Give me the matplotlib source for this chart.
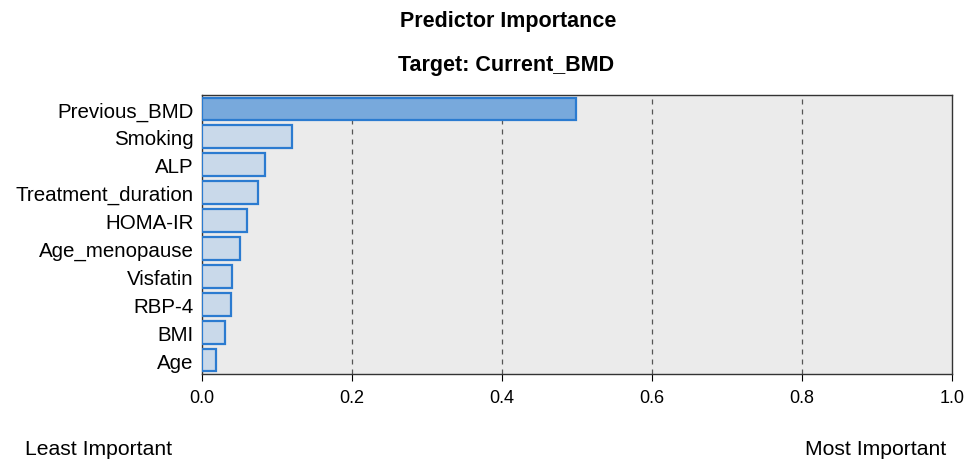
import matplotlib
matplotlib.use("Agg")
import matplotlib.pyplot as plt

plt.rcParams['font.family'] = ['Liberation Sans', 'DejaVu Sans']

predictors = ['Previous_BMD', 'Smoking', 'ALP', 'Treatment_duration', 'HOMA-IR',
              'Age_menopause', 'Visfatin', 'RBP-4', 'BMI', 'Age']
importance = [0.498, 0.120, 0.084, 0.075, 0.060, 0.051, 0.040, 0.039, 0.030, 0.019]
x_ticks = [0.0, 0.2, 0.4, 0.6, 0.8, 1.0]

fig = plt.figure(figsize=(9.76, 4.6), dpi=100)
ax = fig.add_axes([202 / 976, 1 - 375 / 460, 750 / 976, 279 / 460])

ypos = list(range(len(predictors)))[::-1]
colors = ['#78a9dc'] + ['#c9d9ea'] * (len(predictors) - 1)
ax.barh(ypos, importance, height=0.82, color=colors, edgecolor='#2b7bd0', linewidth=1.6, zorder=3)

ax.set_facecolor('#ebebeb')
ax.set_xlim(0, 1.0)
ax.set_ylim(-0.5, len(predictors) - 0.5)
ax.set_yticks(ypos)
ax.set_yticklabels(predictors, fontsize=14.8)
ax.set_xticks(x_ticks)
ax.set_xticklabels(['%.1f' % v for v in x_ticks], fontsize=13)
ax.tick_params(axis='y', length=0, pad=6)
ax.tick_params(axis='x', length=5, direction='out', pad=6)
for v in x_ticks[1:-1]:
    ax.axvline(v, color='#555555', linestyle=(0, (4, 4)), linewidth=0.9, zorder=1)
for s in ax.spines.values():
    s.set_color('#333333')
    s.set_linewidth(1.0)

fig.text(508 / 976, 1 - 21 / 460, 'Predictor Importance', ha='center', va='center',
         fontsize=15.5, fontweight='bold')
fig.text(506 / 976, 1 - 66 / 460, 'Target: Current_BMD', ha='center', va='center',
         fontsize=15.5, fontweight='bold')
fig.text(25 / 976, 1 - 450 / 460, 'Least Important', ha='left', va='center', fontsize=15.2)
fig.text(946 / 976, 1 - 450 / 460, 'Most Important', ha='right', va='center', fontsize=15.2)

fig.savefig('out.png', dpi=100)
